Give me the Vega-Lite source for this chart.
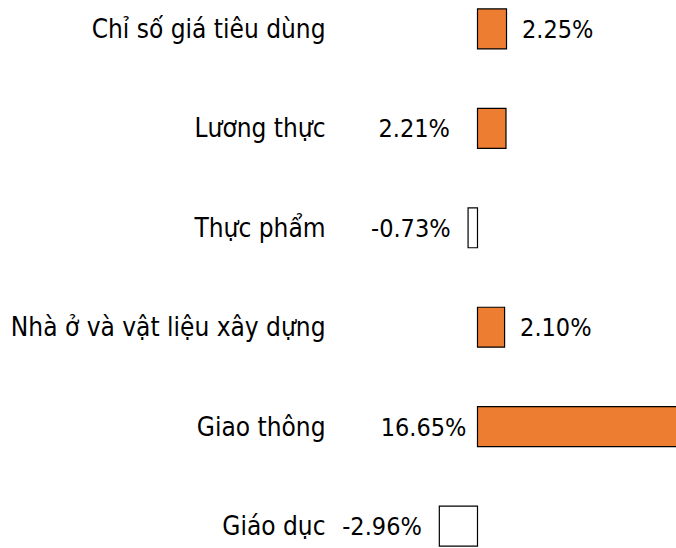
{
  "$schema": "https://vega.github.io/schema/vega-lite/v6.json",
  "width": 336,
  "height": 555,
  "autosize": {"type": "none"},
  "padding": {"left": 340, "top": 0, "right": 0, "bottom": 0},
  "background": "white",
  "config": {"view": {"stroke": null}, "font": "DejaVu Sans Condensed, Liberation Sans, sans-serif"},
  "data": {"values": [
    {"category": "Chỉ số giá tiêu dùng", "value": 2.25, "label": "2.25%"},
    {"category": "Lương thực", "value": 2.21, "label": "2.21%"},
    {"category": "Thực phẩm", "value": -0.73, "label": "-0.73%"},
    {"category": "Nhà ở và vật liệu xây dựng", "value": 2.10, "label": "2.10%"},
    {"category": "Giao thông", "value": 16.65, "label": "16.65%"},
    {"category": "Giáo dục", "value": -2.96, "label": "-2.96%"}
  ]},
  "encoding": {
    "y": {
      "field": "category", "type": "nominal", "sort": null,
      "scale": {"paddingInner": 0.598, "paddingOuter": 0.09},
      "axis": {"title": null, "domain": false, "ticks": false, "tickSize": 0, "labelPadding": 15,
               "labelFontSize": 26, "labelColor": "black", "labelFont": "DejaVu Sans Condensed, Liberation Sans, sans-serif",
               "labelBaseline": "alphabetic", "labelOffset": 9, "labelLimit": 0, "grid": false}
    }
  },
  "layer": [
    {
      "mark": {"type": "bar", "stroke": "black", "strokeWidth": 1.2},
      "encoding": {
        "x": {"field": "value", "type": "quantitative", "scale": {"domain": [-10.66, 15.39], "nice": false}, "axis": null},
        "fill": {"condition": {"test": "datum.value < 0", "value": "white"}, "value": "#ED7D31"}
      }
    },
    {
      "transform": [{"filter": "datum.category == 'Chỉ số giá tiêu dùng' || datum.category == 'Nhà ở và vật liệu xây dựng'"}],
      "mark": {"type": "text", "fontSize": 25, "align": "left", "baseline": "alphabetic", "dx": 15.5, "dy": 9, "color": "black"},
      "encoding": {"x": {"field": "value", "type": "quantitative"}, "text": {"field": "label"}}
    },
    {
      "transform": [{"filter": "datum.value < 0"}],
      "mark": {"type": "text", "fontSize": 25, "align": "right", "baseline": "alphabetic", "dx": -17.5, "dy": 9, "color": "black"},
      "encoding": {"x": {"field": "value", "type": "quantitative"}, "text": {"field": "label"}}
    },
    {
      "transform": [{"filter": "datum.category == 'Lương thực'"}],
      "mark": {"type": "text", "fontSize": 25, "align": "right", "baseline": "alphabetic", "dx": -27.5, "dy": 9, "color": "black"},
      "encoding": {"x": {"datum": 0, "type": "quantitative"}, "text": {"field": "label"}}
    },
    {
      "transform": [{"filter": "datum.category == 'Giao thông'"}],
      "mark": {"type": "text", "fontSize": 25, "align": "right", "baseline": "alphabetic", "dx": -11, "dy": 9, "color": "black"},
      "encoding": {"x": {"datum": 0, "type": "quantitative"}, "text": {"field": "label"}}
    }
  ]
}
